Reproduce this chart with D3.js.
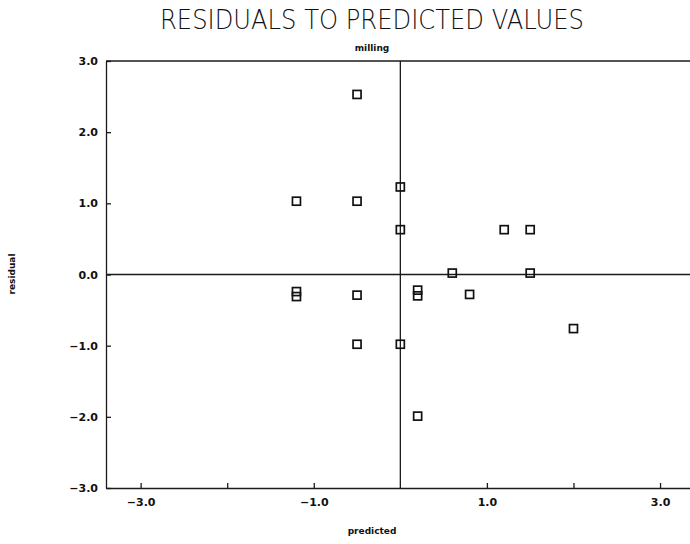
<!DOCTYPE html>
<html>
<head>
<meta charset="utf-8">
<script src="https://cdn.jsdelivr.net/npm/d3@7"></script>
<style>
  body { margin: 0; background: #fff; }
  svg { display: block; }
  .tick text { font-family: "DejaVu Sans", sans-serif; font-weight: bold; font-size: 11px; fill: #111; }
</style>
</head>
<body>
<div id="chart"></div>
<script>
// predicted value and residual of each observation
const predicted = [-1.2, -1.2, -1.2, -0.5, -0.5, -0.5, -0.5, 0.0, 0.0, 0.0, 0.2, 0.2, 0.2, 0.6, 0.8, 1.2, 1.5, 1.5, 2.0];
const residual  = [1.03, -0.24, -0.31, 2.53, 1.03, -0.29, -0.98, 1.23, 0.63, -0.98, -0.22, -0.30, -1.99, 0.02, -0.28, 0.63, 0.63, 0.02, -0.76];

const xTicks = [-3, -2, -1, 1, 2, 3];
const xLabels = [-3, -1, 1, 3];
const yTicks = [-3, -2, -1, 0, 1, 2, 3];

const width = 690, height = 544;
const plotLeft = 106, plotRight = 699, plotTop = 61, plotBottom = 488;

const svg = d3.select("#chart").append("svg")
  .attr("width", width)
  .attr("height", height);

const x = d3.scaleLinear().domain([-3.4, 3.45]).range([plotLeft, plotRight]);
const y = d3.scaleLinear().domain([-3, 3]).range([plotBottom, plotTop]);
const fmt = d3.format(".1f");

// title
svg.append("text")
  .attr("x", 372).attr("y", 29)
  .attr("text-anchor", "middle")
  .attr("textLength", 424)
  .attr("lengthAdjust", "spacingAndGlyphs")
  .style("font-family", "'DejaVu Sans', sans-serif")
  .style("font-weight", 200)
  .style("font-size", "26px")
  .style("fill", "#111")
  .text("RESIDUALS TO PREDICTED VALUES");

svg.append("text")
  .attr("x", 372).attr("y", 51)
  .attr("text-anchor", "middle")
  .style("font-family", "'DejaVu Sans', sans-serif")
  .style("font-weight", "bold")
  .style("font-size", "9px")
  .style("fill", "#111")
  .text("milling");

// axes
const xAxis = d3.axisBottom(x)
  .tickValues(xTicks)
  .tickSize(-5)
  .tickSizeOuter(0)
  .tickPadding(10)
  .tickFormat(d => xLabels.includes(d) ? fmt(d) : "");

const yAxis = d3.axisLeft(y)
  .tickValues(yTicks)
  .tickSize(-5)
  .tickSizeOuter(0)
  .tickPadding(8)
  .tickFormat(fmt);

svg.append("g").attr("transform", `translate(0,${plotBottom})`).call(xAxis);
svg.append("g").attr("transform", `translate(${plotLeft},0)`).call(yAxis);
svg.selectAll(".domain, .tick line").attr("stroke", "#1a1a1a").attr("stroke-width", 1.3);

// top frame line
svg.append("line")
  .attr("x1", x(-3.4)).attr("x2", x(3.45))
  .attr("y1", y(3)).attr("y2", y(3))
  .attr("stroke", "#1a1a1a").attr("stroke-width", 1.3);

// zero lines
svg.append("line")
  .attr("x1", x(0)).attr("x2", x(0))
  .attr("y1", y(3)).attr("y2", y(-3))
  .attr("stroke", "#1a1a1a").attr("stroke-width", 1.3);
svg.append("line")
  .attr("x1", x(-3.4)).attr("x2", x(3.45))
  .attr("y1", y(0)).attr("y2", y(0))
  .attr("stroke", "#1a1a1a").attr("stroke-width", 1.3);

// axis titles
svg.append("text")
  .attr("x", 372).attr("y", 534)
  .attr("text-anchor", "middle")
  .style("font-family", "'DejaVu Sans', sans-serif")
  .style("font-weight", "bold")
  .style("font-size", "9px")
  .style("fill", "#111")
  .text("predicted");

svg.append("text")
  .attr("transform", "translate(15,274) rotate(-90)")
  .attr("text-anchor", "middle")
  .style("font-family", "'DejaVu Sans', sans-serif")
  .style("font-weight", "bold")
  .style("font-size", "9px")
  .style("fill", "#111")
  .text("residual");

// points
const s = 8;
svg.selectAll(".pt")
  .data(d3.range(predicted.length))
  .enter().append("rect")
  .attr("class", "pt")
  .attr("x", i => x(predicted[i]) - s / 2)
  .attr("y", i => y(residual[i]) - s / 2)
  .attr("width", s).attr("height", s)
  .attr("fill", "none")
  .attr("stroke", "#111")
  .attr("stroke-width", 1.7);
</script>
</body>
</html>
